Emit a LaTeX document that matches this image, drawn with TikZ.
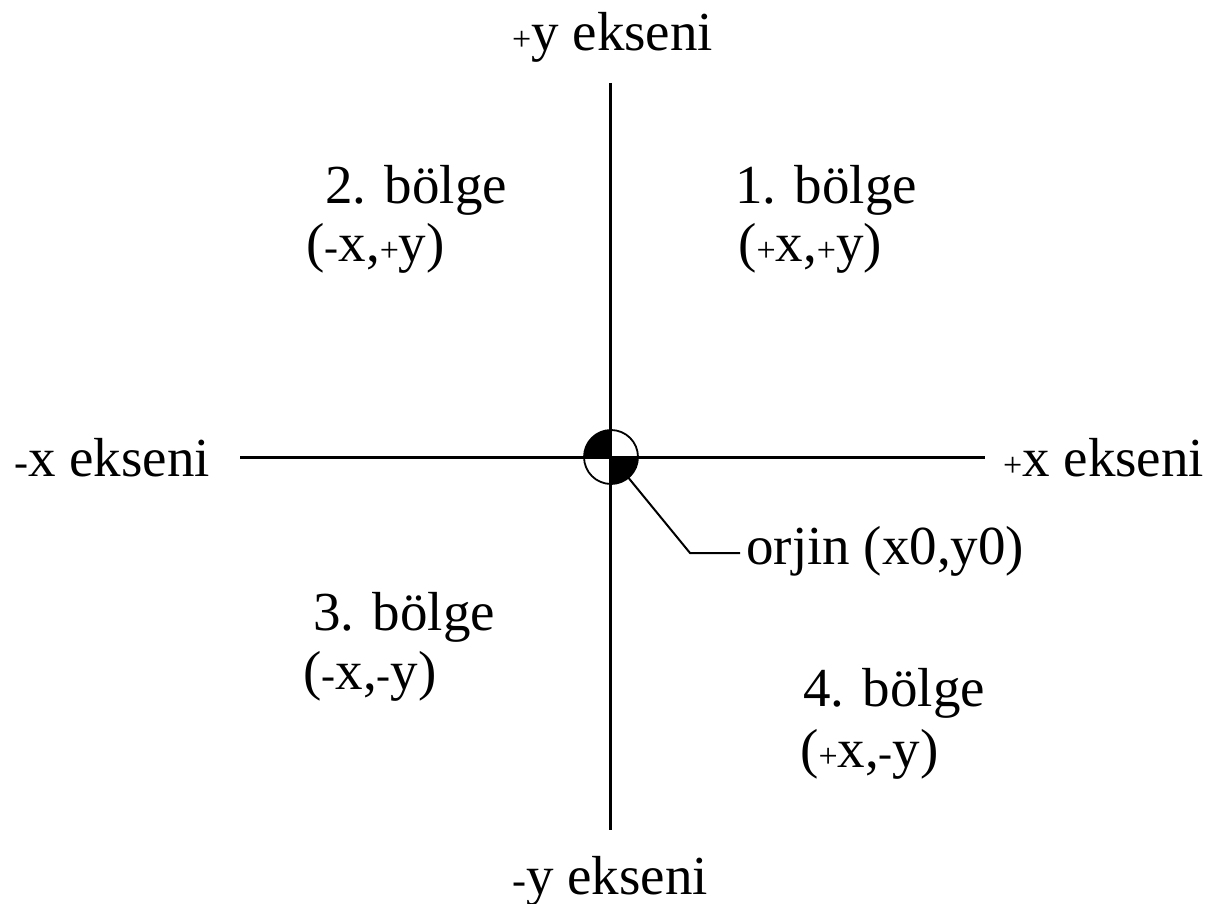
\documentclass[tikz,border=0pt]{standalone}
\usepackage{fontspec}
\setmainfont{Liberation Serif}
\newcommand\smp{{\fontsize{34}{34}\selectfont+}}
\newcommand\smm{{\fontsize{42}{42}\selectfont-}}
\begin{document}
\begin{tikzpicture}[x=1pt,y=-1pt,
  lbl/.style={anchor=west,inner sep=0pt,font=\fontsize{55}{60}\selectfont},
  axis/.style={line width=3pt},
  lead/.style={line width=2pt}]
\useasboundingbox (0,0) rectangle (1211,904);
% axes
\coordinate (yt) at (610,83);
\coordinate (yb) at (610,830);
\coordinate (xl) at (240,457);
\coordinate (xr) at (985,457);
\draw[axis] (yt) -- (yb);
\draw[axis] (xl) -- (xr);
% origin symbol
\node[circle,minimum size=54pt,inner sep=0pt] (o) at (611,457) {};
\fill (o.center) -- (o.west) arc (180:270:27) -- cycle;
\fill (o.center) -- (o.east) arc (0:90:27) -- cycle;
\draw[line width=1.8pt] (o) circle (27);
% leader
\coordinate (bend) at (690,553);
\coordinate (lend) at (740,553);
\node[lbl] (or) at (746,551) {orjin (x0,y0)};
\draw[lead] (o.-50) -- (bend) -- (lend);
% axis labels
\node[lbl] (py) at (512,37) {\smp y ekseni};
\node[lbl] (my) at (512,881) {\smm y ekseni};
\node[lbl] (mx) at (14,458) {\smm x ekseni};
\node[lbl] (px) at (1003,458) {\smp x ekseni};
% quadrants
\node[lbl] (q2) at (325,190) {2. bölge};
\node[lbl] (q2c) at (306,248) {(\smm x,\smp y)};
\node[lbl] (q1) at (735,190) {1. bölge};
\node[lbl] (q1c) at (738,248) {(\smp x,\smp y)};
\node[lbl] (q3) at (313,617) {3. bölge};
\node[lbl] (q3c) at (303,676) {(\smm x,\smm y)};
\node[lbl] (q4) at (803,693) {4. bölge};
\node[lbl] (q4c) at (800,754) {(\smp x,\smm y)};
\end{tikzpicture}
\end{document}
